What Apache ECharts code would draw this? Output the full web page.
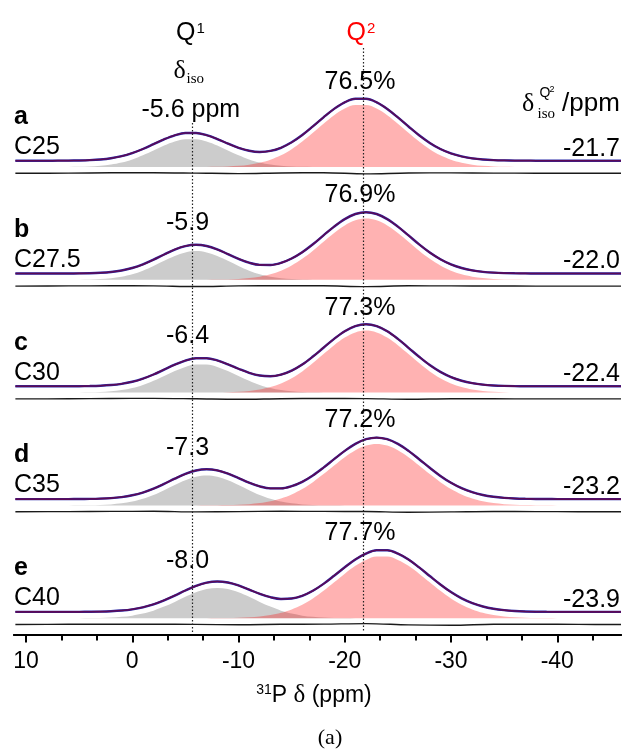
<!DOCTYPE html>
<html><head><meta charset="utf-8">
<script src="https://cdn.jsdelivr.net/npm/echarts@6/dist/echarts.min.js"></script>
<style>html,body{margin:0;padding:0;background:#fff}#c{width:624px;height:749px}</style>
</head><body><div id="c"></div>
<script>
// ---------------- data ----------------
const ppm = [11,10,9,8,7,6,5,4,3,2,1,0,-1,-2,-3,-4,-5,-6,-7,-8,-9,-10,-11,-12,-13,-14,-15,-16,-17,-18,-19,-20,-21,-22,-23,-24,-25,-26,-27,-28,-29,-30,-31,-32,-33,-34,-35,-36,-37,-38,-39,-40,-41,-42,-43,-44,-45,-46];

const q1_a = [0,0,0,0.01,0.03,0.09,0.24,0.57,1.23,2.46,4.5,7.6,11.7,16.5,21.4,25.4,27.7,27.7,25.4,21.4,16.5,11.7,7.6,4.5,2.46,1.23,0.57,0.24,0.09,0.03,0.01,
  0,0,0,0,0,0,0,0,0,0, 0,0,0,0,0,0,0,0,0,0, 0,0,0,0,0,0,0];
const q2_a = [0,0,0,0,0,0,0,0,0,0, 0,0,0,0,0,0,
  0.02,0.05,0.12,0.28,0.60,1.22,2.35,4.26,7.3,11.7,17.8,25.4,34.2,43.3,51.8,58.4,61.9,61.9,58.4,51.8,43.3,34.2,25.4,17.8,11.7,7.3,4.26,2.35,1.22,0.60,0.28,0.12,0.05,0.02,
  0,0,0,0,0,0,0,0];
const q1_b = [0,0,0,0,
  0.01,0.04,0.11,0.29,0.70,1.52,3.02,5.5,9.1,13.8,19.0,23.9,27.4,28.7,27.4,23.9,19.0,13.8,9.1,5.5,3.02,1.52,0.70,0.29,0.11,0.04,0.01,
  0,0,0,0,0,0,0,0,0,0, 0,0,0,0,0,0,0,0,0,0, 0,0,0,0,0,0,0];
const q2_b = [0,0,0,0,0,0,0,0,0,0, 0,0,0,0,0,0,
  0.01,0.03,0.08,0.18,0.40,0.85,1.68,3.13,5.5,9.1,14.3,21.0,29.1,38.1,46.9,54.4,59.5,61.3,59.5,54.4,46.9,38.1,29.1,21.0,14.3,9.1,5.5,3.13,1.68,0.85,0.40,0.18,0.08,0.03,0.01,
  0,0,0,0,0,0,0];
const q1_c = [0,0,0,0,
  0.01,0.03,0.09,0.24,0.57,1.24,2.48,4.55,7.65,11.8,16.7,21.6,25.7,28.0,28.0,25.7,21.6,16.7,11.8,7.65,4.55,2.48,1.24,0.57,0.24,0.09,0.03,0.01,
  0,0,0,0,0,0,0,0,0,0, 0,0,0,0,0,0,0,0,0,0, 0,0,0,0,0,0];
const q2_c = [0,0,0,0,0,0,0,0,0,0, 0,0,0,0,0,0,
  0.01,0.03,0.08,0.18,0.41,0.86,1.70,3.17,5.57,9.2,14.4,21.2,29.5,38.5,47.4,55.0,60.2,62.0,60.2,55.0,47.4,38.5,29.5,21.2,14.4,9.2,5.57,3.17,1.70,0.86,0.41,0.18,0.08,0.03,0.01,
  0,0,0,0,0,0,0];
const q1_d = [0,0,0,0,
  0.01,0.02,0.07,0.18,0.45,0.99,2.03,3.81,6.57,10.4,15.2,20.4,25.2,28.6,29.8,28.6,25.2,20.4,15.2,10.4,6.57,3.81,2.03,0.99,0.45,0.18,0.07,0.02,0.01,
  0,0,0,0,0,0,0,0,0,0, 0,0,0,0,0,0,0,0,0,0, 0,0,0,0,0];
const q2_d = [0,0,0,0,0,0,0,0,0,0, 0,0,0,0,0,0,0,
  0.02,0.06,0.14,0.31,0.64,1.25,2.33,4.11,6.88,10.9,16.3,23.2,31.3,39.9,48.2,55.2,59.9,61.5,59.9,55.2,48.2,39.9,31.3,23.2,16.3,10.9,6.88,4.11,2.33,1.25,0.64,0.31,0.14,0.06,0.02,
  0,0,0,0,0,0];
const q1_e = [0,0,0,0,0,
  0.02,0.05,0.12,0.28,0.64,1.33,2.57,4.58,7.56,11.6,16.3,21.4,26.0,29.2,30.3,29.2,26.0,21.4,16.3,11.6,7.56,4.58,2.57,1.33,0.64,0.28,0.12,0.05,0.02,
  0,0,0,0,0,0,0,0,0,0, 0,0,0,0,0,0,0,0,0,0, 0,0,0,0];
const q2_e = [0,0,0,0,0,0,0,0,0,0, 0,0,0,0,0,0,0,
  0.01,0.04,0.09,0.21,0.45,0.91,1.74,3.14,5.4,8.8,13.5,19.8,27.4,35.9,44.5,52.4,58.3,61.6,61.6,58.3,52.4,44.5,35.9,27.4,19.8,13.5,8.8,5.4,3.14,1.74,0.91,0.45,0.21,0.09,0.04,0.01,
  0,0,0,0,0];

const residPpm = [11,6,2,-2,-6,-10,-14,-18,-22,-26,-30,-34,-38,-42,-46];
const res_a = [0,0.2,0.5,0.6,0.2,-0.3,0.3,0.6,-0.6,0.3,0.4,0.2,0.1,0,0];
const res_b = [0,0.2,0.3,0.2,-0.4,0.2,0.4,0.3,-0.5,0.3,0.2,0.1,0,0,0];
const res_c = [0,0.1,0.4,0.5,0.1,-0.4,0.2,0.5,0.3,-0.3,0.2,0.1,0,0,0];
const res_d = [0,0.1,0.3,0.4,-0.2,0.1,0.4,0.3,0.2,-0.5,-0.2,0.2,0.1,0,0];
const res_e = [0,0.2,0.3,0.3,0.1,-0.2,0.2,0.4,0.9,-0.4,-0.8,0.2,0.3,0.1,0];

const panelLetters = ['a','b','c','d','e'];
const sampleNames = ['C25','C27.5','C30','C35','C40'];
const q1ShiftLabels = ['-5.6 ppm','-5.9','-6.4','-7.3','-8.0'];
const q2Percents = ['76.5%','76.9%','77.3%','77.2%','77.7%'];
const q2ShiftLabels = ['-21.7','-22.0','-22.4','-23.2','-23.9'];
const refShifts = [-5.6, -21.7];
const xMajorTicks = [10,0,-10,-20,-30,-40];
const xMinorTicks = [6.667,3.333,-3.333,-6.667,-13.333,-16.667,-23.333,-26.667,-33.333,-36.667,-43.333];
const X_MIN = -46, X_MAX = 11.13;

// ---------------- layout / style ----------------
const SANS = '"Liberation Sans", Arial, Helvetica, sans-serif';
const SERIF = '"Liberation Serif", "Times New Roman", serif';
const G_LEFT = 14, G_RIGHT = 3;
const B0 = 160.7, DB = 112.8;    // spectrum baselines (px)
const FILL_SHIFT = 6.3, RES_SHIFT = 12.6;
const TY = 2.5;                  // text vertical nudge

const Q1 = [q1_a,q1_b,q1_c,q1_d,q1_e];
const Q2 = [q2_a,q2_b,q2_c,q2_d,q2_e];
const RES = [res_a,res_b,res_c,res_d,res_e];
[...Q1,...Q2].forEach((a,i)=>{ if(a.length!==ppm.length) throw new Error('array '+i+' length '+a.length); });

const grids=[], xAxes=[], yAxes=[], series=[], graphics=[];
const xBase = {type:'value', inverse:true, min:X_MIN, max:X_MAX, show:false};
function grid(top,height){ return {left:G_LEFT, right:G_RIGHT, top:top, height:height, containLabel:false, outerBoundsMode:'none'}; }

function txt(x,y,text,o){
  o=o||{};
  graphics.push({type:'text', x:x, y:y+TY, z:100, silent:true, style:Object.assign({
    text:text, fontSize:25, fontFamily:SANS, fill:'#000',
    align:o.align||'left', textAlign:o.align||'left',
    verticalAlign:'middle', textVerticalAlign:'middle'}, o.style||{})});
}

for(let i=0;i<5;i++){
  const B = B0 + i*DB;
  grids.push(grid(B-70, 90));
  xAxes.push(Object.assign({gridIndex:i}, xBase));
  yAxes.push({gridIndex:i, type:'value', min:-20, max:70, show:false});
  yAxes.push({gridIndex:i, type:'value', min:-20+FILL_SHIFT, max:70+FILL_SHIFT, show:false});
  yAxes.push({gridIndex:i, type:'value', min:-20+RES_SHIFT, max:70+RES_SHIFT, show:false});
  const q1=Q1[i], q2=Q2[i];
  const sum = q1.map((v,j)=>v+q2[j]);
  const common = {type:'line', xAxisIndex:i, symbol:'none', showSymbol:false, smooth:0.35, silent:true, animation:false, clip:false};
  series.push(Object.assign({}, common, {yAxisIndex:3*i+1, z:1, data:ppm.map((p,j)=>[p,q1[j]]),
    lineStyle:{width:0}, areaStyle:{color:'#cccccc', opacity:1}}));
  series.push(Object.assign({}, common, {yAxisIndex:3*i+1, z:2, data:ppm.map((p,j)=>[p,q2[j]]),
    lineStyle:{width:0}, areaStyle:{color:'rgba(255,0,0,0.3)', opacity:1}}));
  series.push(Object.assign({}, common, {yAxisIndex:3*i, z:3, data:ppm.map((p,j)=>[p,sum[j]]),
    lineStyle:{width:2.4, color:'#2a2aa8'}}));
  series.push(Object.assign({}, common, {yAxisIndex:3*i, z:4, data:ppm.map((p,j)=>[p,sum[j]]),
    lineStyle:{width:1.6, color:'#5c0a55'}}));
  series.push(Object.assign({}, common, {yAxisIndex:3*i+2, z:3, data:residPpm.map((p,j)=>[p,RES[i][j]]),
    lineStyle:{width:1.4, color:'#1a1a1a'}}));

  txt(14, B-46, panelLetters[i], {style:{fontWeight:'bold'}});
  txt(14, B-16, sampleNames[i]);
  txt(i===0?190.8:187.5, B-53, q1ShiftLabels[i], {align:'center'});
  txt(360, B-81, q2Percents[i], {align:'center'});
  txt(620, B-14.5, q2ShiftLabels[i], {align:'right'});
}

// axis grid: major ticks + labels
grids.push(grid(600, 35));
xAxes.push({gridIndex:5, type:'value', inverse:true, min:X_MIN, max:X_MAX, position:'bottom', offset:0,
  axisLine:{show:true, lineStyle:{color:'#000', width:2}},
  axisTick:{show:true, length:7.5, customValues:xMajorTicks, lineStyle:{color:'#000', width:2}},
  splitLine:{show:false},
  axisLabel:{fontSize:23, color:'#000', fontFamily:SANS, margin:15, customValues:xMajorTicks,
    showMinLabel:true, showMaxLabel:true, hideOverlap:false}});
yAxes.push({gridIndex:5, type:'value', min:0, max:1, show:false});

// overlay grid for reference lines (y in pixels)
grids.push(grid(0, 749));
xAxes.push(Object.assign({gridIndex:6}, xBase));
yAxes.push({gridIndex:6, type:'value', min:0, max:749, inverse:true, show:false});
const refTops=[123,48];
series.push({type:'line', xAxisIndex:6, yAxisIndex:yAxes.length-1, data:[], z:20, silent:true, animation:false,
  markLine:{silent:true, symbol:['none','none'], animation:false, label:{show:false},
    lineStyle:{color:'#222', width:1.2, type:[1.5,2]},
    data: refShifts.map((s,k)=>[{coord:[s,refTops[k]]},{coord:[s,632]}])}});

// minor-tick grid, same place as the axis grid
grids.push(grid(600, 35));
xAxes.push({gridIndex:7, type:'value', inverse:true, min:X_MIN, max:X_MAX, position:'bottom', offset:0,
  axisLine:{show:true, lineStyle:{color:'#000', width:2}},
  axisTick:{show:true, length:5.5, customValues:xMinorTicks, lineStyle:{color:'#000', width:2}},
  splitLine:{show:false}, axisLabel:{show:false}});
yAxes.push({gridIndex:7, type:'value', min:0, max:1, show:false});

// header texts
txt(176, 31, 'Q');
txt(196.5, 26, '1', {style:{fontSize:15}});
txt(346.5, 31, 'Q', {style:{fill:'#ff0000'}});
txt(367, 26, '2', {style:{fontSize:15, fill:'#ff0000'}});
txt(173.5, 69, 'δ', {style:{fontFamily:SERIF, fontSize:26}});
txt(186.5, 77, 'iso', {style:{fontFamily:SERIF, fontSize:15}});
txt(522, 102, 'δ', {style:{fontFamily:SERIF, fontSize:26}});
txt(537.5, 112, 'iso', {style:{fontFamily:SERIF, fontSize:15}});
txt(539.5, 91, 'Q', {style:{fontSize:14}});
txt(549.5, 87, '2', {style:{fontSize:9}});
txt(562, 101, '/ppm', {style:{fontSize:26}});
// axis title
graphics.push({type:'text', x:314, y:693+TY, z:100, silent:true, style:{
  text:'{s|31}P {g|δ} (ppm)', fontSize:23, fontFamily:SANS, fill:'#000',
  align:'center', textAlign:'center', verticalAlign:'middle', textVerticalAlign:'middle',
  rich:{s:{fontSize:14, fontFamily:SANS, verticalAlign:'top', fill:'#000'},
        g:{fontSize:25, fontFamily:SERIF, fill:'#000'}}}});
txt(330, 736, '(a)', {align:'center', style:{fontFamily:SERIF, fontSize:22}});

const chart = echarts.init(document.getElementById('c'), null, {renderer:'canvas'});
chart.setOption({animation:false, backgroundColor:'#fff', grid:grids, xAxis:xAxes, yAxis:yAxes, series:series, graphic:graphics});
</script>
</body></html>
